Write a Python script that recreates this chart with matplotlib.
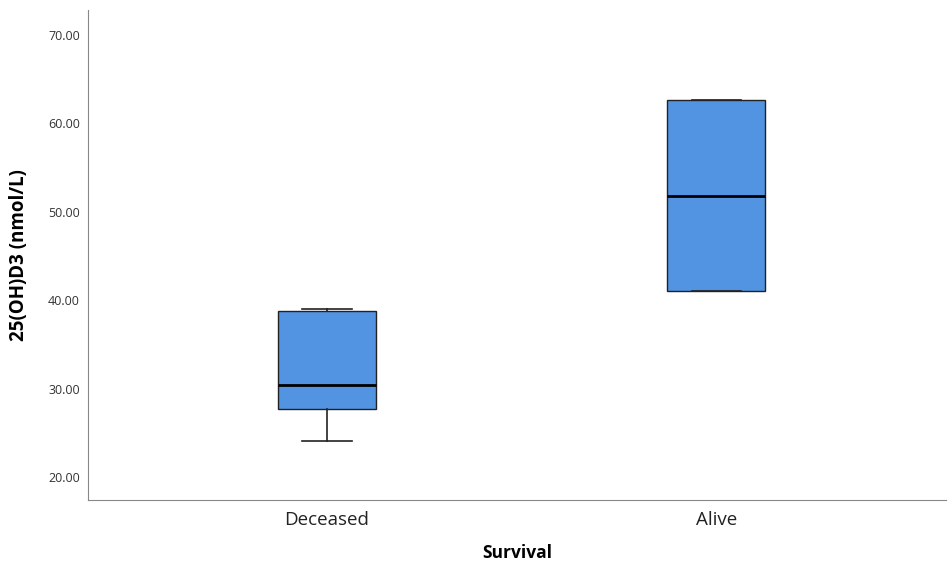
import matplotlib.pyplot as plt

groups = ['Deceased', 'Alive']
whislo = [24.1, 41.0]
q1 = [27.7, 41.0]
med = [30.4, 51.75]
q3 = [38.75, 62.6]
whishi = [39.0, 62.6]
yticks = [20, 30, 40, 50, 60, 70]

plt.rcParams['font.family'] = ['Open Sans', 'DejaVu Sans']

stats = []
for i, g in enumerate(groups):
    stats.append({'label': g, 'whislo': whislo[i], 'q1': q1[i], 'med': med[i],
                  'q3': q3[i], 'whishi': whishi[i], 'fliers': []})

fig = plt.figure(figsize=(9.49, 5.65), dpi=100)
ax = fig.add_axes([0.093, 0.115, 0.904, 0.867])

ax.bxp(stats, positions=[0, 1], widths=0.252, patch_artist=True,
       boxprops=dict(facecolor='#5294e2', edgecolor='#222222', linewidth=1),
       medianprops=dict(color='black', linewidth=2),
       whiskerprops=dict(color='#222222', linewidth=1.2),
       capprops=dict(color='#222222', linewidth=1.2),
       capwidths=0.126)

ax.set_xlim(-0.613, 1.59)
ax.set_ylim(17.4, 72.8)
ax.set_yticks(yticks)
ax.set_yticklabels([f'{v:.2f}' for v in yticks], fontsize=9, color='#333333')
ax.set_xticks([0, 1])
ax.set_xticklabels(groups, fontsize=13.5, color='#222222')
ax.tick_params(length=0, pad=8)
ax.tick_params(axis='y', pad=6)

ax.spines['top'].set_visible(False)
ax.spines['right'].set_visible(False)
for s in ['left', 'bottom']:
    ax.spines[s].set_color('#888888')

ax.set_xlabel('Survival', fontsize=12.5, fontweight='bold', labelpad=11)
ax.set_ylabel('25(OH)D3 (nmol/L)', fontsize=13.5, fontweight='bold', labelpad=14)

fig.savefig('out.png', dpi=100)
